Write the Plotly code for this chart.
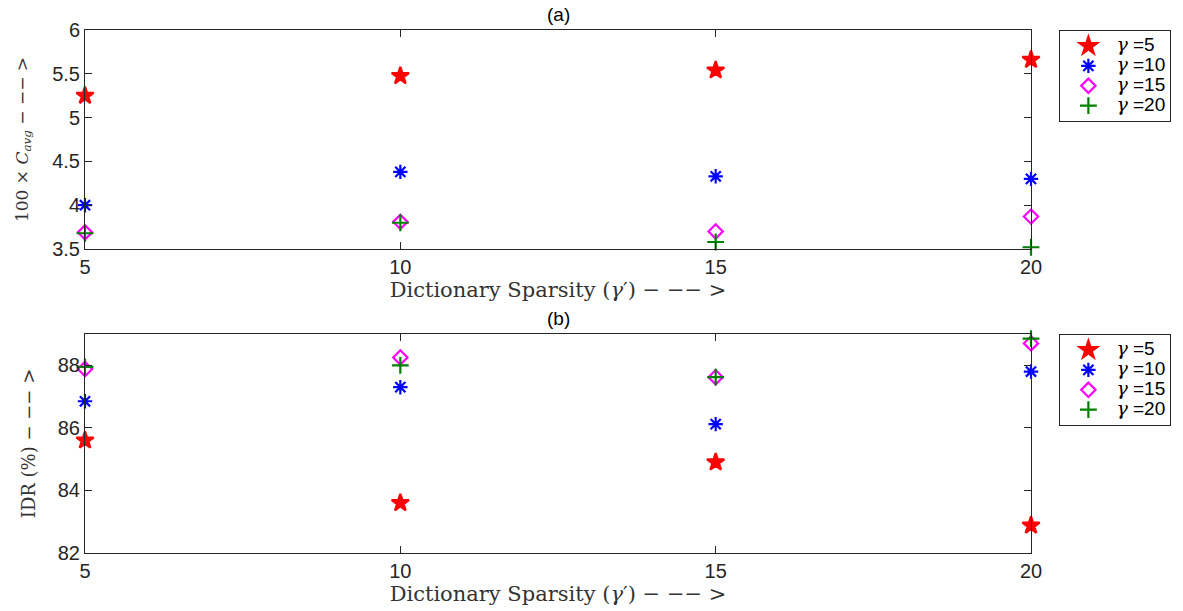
import plotly.graph_objects as go
from plotly.subplots import make_subplots

# Dictionary sparsity values (gamma')
sparsity = [5, 10, 15, 20]
gammas = ["5", "10", "15", "20"]

# (a) 100 x C_avg for each gamma
cavg_g5 = [5.25, 5.475, 5.54, 5.66]
cavg_g10 = [4.00, 4.38, 4.33, 4.30]
cavg_g15 = [3.69, 3.81, 3.70, 3.87]
cavg_g20 = [3.68, 3.80, 3.58, 3.52]

# (b) IDR (%) for each gamma
idr_g5 = [85.6, 83.6, 84.9, 82.88]
idr_g10 = [86.85, 87.3, 86.12, 87.8]
idr_g15 = [87.88, 88.25, 87.62, 88.7]
idr_g20 = [87.95, 88.0, 87.62, 88.85]

colors = ["#ff0000", "#0000ff", "#ff00ff", "#008000"]
symbols = ["star", "asterisk-open", "diamond-open", "cross-thin-open"]
sizes = [13, 12, 11, 12]

serif = "DejaVu Serif"
sans = "Liberation Sans"
axis_col = "#262626"
label_col = "#333333"

fig = make_subplots(rows=2, cols=1, vertical_spacing=0.1625,
                    subplot_titles=("(a)", "(b)"))

top_series = [cavg_g5, cavg_g10, cavg_g15, cavg_g20]
bot_series = [idr_g5, idr_g10, idr_g15, idr_g20]

for row, series, leg in [(1, top_series, "legend"), (2, bot_series, "legend2")]:
    for i, ys in enumerate(series):
        fig.add_trace(go.Scatter(
            x=sparsity, y=ys, mode="markers",
            name=(f"<span style=\"font-size:19px\"><span style=\"font-family:'{serif}'\">"
                  f"<i>γ</i></span> ={gammas[i]}</span>"),
            legend=leg, cliponaxis=False,
            marker=dict(symbol=symbols[i], size=sizes[i], color=colors[i],
                        line=dict(color=colors[i], width=2.2)),
        ), row=row, col=1)

xtitle = "Dictionary Sparsity (<i>γ</i>′) − −− >"
for row in (1, 2):
    fig.update_xaxes(range=[5, 20], tickvals=sparsity, ticks="inside", ticklen=7,
                     tickcolor=axis_col, showline=True, linecolor=axis_col, linewidth=1,
                     mirror="ticks", showgrid=False, zeroline=False,
                     tickfont=dict(family=sans, size=20, color=axis_col),
                     title=dict(text=xtitle, font=dict(family=serif, size=21, color=label_col),
                                standoff=3),
                     row=row, col=1)

fig.update_yaxes(range=[3.5, 6], tickvals=[3.5, 4, 4.5, 5, 5.5, 6],
                 ticktext=["3.5", "4", "4.5", "5", "5.5", "6"], row=1, col=1,
                 title=dict(text="100 × <i>C</i><sub><i>avg</i></sub> − −− >",
                            font=dict(family=serif, size=17, color=label_col), standoff=19))
fig.update_yaxes(range=[82, 89], tickvals=[82, 84, 86, 88], row=2, col=1,
                 title=dict(text="IDR (%) − −− >",
                            font=dict(family=serif, size=18, color=label_col), standoff=17))
fig.update_yaxes(ticks="inside", ticklen=7, tickcolor=axis_col, showline=True,
                 linecolor=axis_col, linewidth=1, mirror="ticks", showgrid=False,
                 zeroline=False, tickfont=dict(family=sans, size=20, color=axis_col))

for ann in fig.layout.annotations:
    ann.font = dict(family=sans, size=19, color="#000000")
    ann.yshift = 3

legend_style = dict(xanchor="left", yanchor="top", x=1.03,
                    bgcolor="white", bordercolor=axis_col, borderwidth=1,
                    font=dict(family=sans, size=13, color="#000000"),
                    itemwidth=46, tracegroupgap=0)
fig.update_layout(
    width=1183, height=611,
    margin=dict(l=85, r=152, t=30, b=58),
    paper_bgcolor="white", plot_bgcolor="white",
    legend=dict(y=1.0, **legend_style),
    legend2=dict(y=0.4187, **legend_style),
)

fig.write_html("out.html")
